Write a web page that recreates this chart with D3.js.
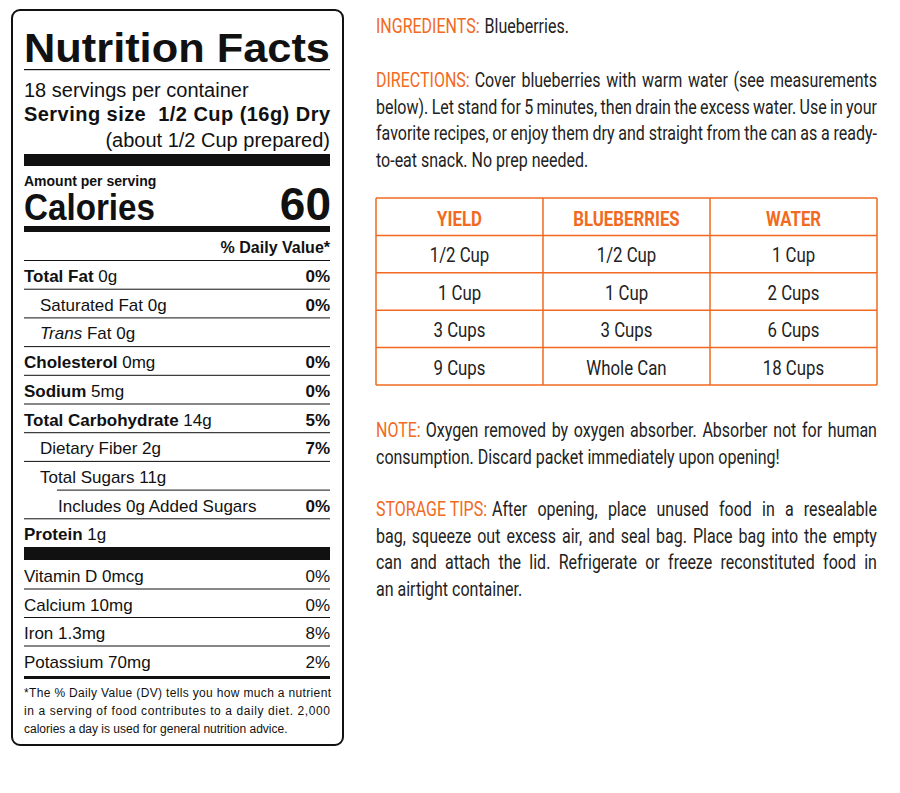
<!DOCTYPE html>
<html>
<head>
  <script src="https://cdn.jsdelivr.net/npm/d3@7"></script>
  <style>
    body { margin: 0; background: #fff; }
    svg { display: block; }
  </style>
</head>
<body>
  <svg id="label" width="900" height="793"></svg>
  <script>
    // nutrient rows: [bold name, rest, % DV, indent level]
    var nutrients = [
      ['Total Fat', ' 0g', '0%', 0],
      ['', 'Saturated Fat 0g', '0%', 1],
      ['', 'Trans Fat 0g', '', 1],
      ['Cholesterol', ' 0mg', '0%', 0],
      ['Sodium', ' 5mg', '0%', 0],
      ['Total Carbohydrate', ' 14g', '5%', 0],
      ['', 'Dietary Fiber 2g', '7%', 1],
      ['', 'Total Sugars 11g', '', 1],
      ['', 'Includes 0g Added Sugars', '0%', 2],
      ['Protein', ' 1g', '', 0]
    ]
    var vitamins = [
      ['Vitamin D 0mcg', '0%'],
      ['Calcium 10mg', '0%'],
      ['Iron 1.3mg', '8%'],
      ['Potassium 70mg', '2%']
    ]
    var footnote = [
      '*The % Daily Value (DV) tells you how much a nutrient',
      'in a serving of food contributes to a daily diet. 2,000',
      'calories a day is used for general nutrition advice.'
    ]
    var tableHead = ['YIELD', 'BLUEBERRIES', 'WATER']
    var tableRows = [
      ['1/2 Cup', '1/2 Cup', '1 Cup'],
      ['1 Cup', '1 Cup', '2 Cups'],
      ['3 Cups', '3 Cups', '6 Cups'],
      ['9 Cups', 'Whole Can', '18 Cups']
    ]
    var paragraphs = [
      { head: 'INGREDIENTS:', y: 33, lines: ['Blueberries.'] },
      { head: 'DIRECTIONS:', y: 87, lines: [
        'Cover blueberries with warm water (see measurements',
        'below). Let stand for 5 minutes, then drain the excess water. Use in your',
        'favorite recipes, or enjoy them dry and straight from the can as a ready-',
        'to-eat snack. No prep needed.'] },
      { head: 'NOTE:', y: 437, lines: [
        'Oxygen removed by oxygen absorber. Absorber not for human',
        'consumption. Discard packet immediately upon opening!'] },
      { head: 'STORAGE TIPS:', y: 516, lines: [
        'After opening, place unused food in a resealable',
        'bag, squeeze out excess air, and seal bag. Place bag into the empty',
        'can and attach the lid. Refrigerate or freeze reconstituted food in',
        'an airtight container.'] }
    ]

    var orange = '#f26a21'
    var sans = 'Liberation Sans, Arial, sans-serif'
    var narrow = 'Roboto, "DejaVu Sans", sans-serif'
    var squeeze = 0.8
    var svg = d3.select('#label')

    // ---- nutrition facts panel ----
    var L = 24, R = 330
    svg.append('rect').attr('x', 12).attr('y', 10).attr('width', 331).attr('height', 735)
      .attr('rx', 8).attr('fill', 'none').attr('stroke', '#111').attr('stroke-width', 2)

    function bar(y, h, x0) {
      svg.append('rect').attr('x', x0 || L).attr('y', y).attr('width', R - (x0 || L)).attr('height', h).attr('fill', '#111')
    }
    function txt(x, y, s, size, weight, anchor, style) {
      return svg.append('text').attr('x', x).attr('y', y).text(s)
        .style('font-family', sans).style('font-size', size + 'px')
        .style('font-weight', weight || 'normal').style('font-style', style || 'normal')
        .attr('text-anchor', anchor || 'start').attr('fill', '#111')
    }

    txt(L, 62, 'Nutrition Facts', 40, 'bold').attr('textLength', 306).attr('lengthAdjust', 'spacingAndGlyphs')
    bar(69, 1.2)
    txt(L, 97, '18 servings per container', 20)
    txt(L, 121, 'Serving size  1/2 Cup (16g) Dry', 20, 'bold').style('white-space', 'pre')
      .attr('textLength', R - L).attr('lengthAdjust', 'spacing')
    txt(R, 147, '(about 1/2 Cup prepared)', 20, 'normal', 'end')
    bar(154, 12)
    txt(L, 186, 'Amount per serving', 14, 'bold')
    txt(L, 220, 'Calories', 36, 'bold').attr('textLength', 131).attr('lengthAdjust', 'spacingAndGlyphs')
    txt(R + 1, 220, '60', 46, 'bold', 'end')
    bar(226, 6)
    txt(R, 253, '% Daily Value*', 16, 'bold', 'end')

    var y = d3.scaleLinear().domain([0, 1]).range([282, 310.7])
    var indent = [0, 16, 34]
    nutrients.forEach(function (d, i) {
      var yy = y(i)
      var lineX = (i === 8) ? 57 : L
      bar(yy - 22, 1, lineX)
      var t = txt(L + indent[d[3]], yy, '', 17)
      if (d[0]) t.append('tspan').style('font-weight', 'bold').text(d[0])
      if (d[1] === 'Trans Fat 0g') {
        t.append('tspan').style('font-style', 'italic').text('Trans')
        t.append('tspan').text(' Fat 0g')
      } else t.append('tspan').text(d[1])
      if (d[2]) txt(R, yy, d[2], 17, 'bold', 'end')
    })
    bar(547, 13)
    var yv = d3.scaleLinear().domain([0, 1]).range([582, 610.5])
    vitamins.forEach(function (d, i) {
      if (i > 0) bar(yv(i) - 22, 1)
      txt(L, yv(i), d[0], 17)
      txt(R, yv(i), d[1], 17, 'normal', 'end')
    })
    bar(676, 3)
    footnote.forEach(function (s, i) {
      var t = txt(L, 697 + i * 18, s, 12)
      if (i < 2) t.attr('textLength', i === 0 ? 307 : R - L).attr('lengthAdjust', 'spacing')
    })

    // ---- right column (condensed look via textLength) ----
    var X0 = 376, X1 = 877, lh = 26.7
    function ntext(x, yy, s, fill, size, weight) {
      var t = svg.append('text').attr('x', x).attr('y', yy).text(s)
        .style('font-family', narrow).style('font-size', (size || 20) + 'px')
        .style('font-weight', weight || 'normal').attr('fill', fill || '#222')
        .style('white-space', 'pre')
      var w = t.node().getComputedTextLength() * squeeze
      t.attr('textLength', w).attr('lengthAdjust', 'spacingAndGlyphs')
      return { node: t, w: w }
    }
    paragraphs.forEach(function (p) {
      var h = ntext(X0, p.y, p.head, orange)
      p.lines.forEach(function (s, i) {
        var x0 = i === 0 ? X0 + h.w + 5 : X0
        var r = ntext(x0, p.y + i * lh, s)
        if (i < p.lines.length - 1) {
          // justify: keep glyph squeeze, stretch spaces
          r.node.attr('textLength', X1 - x0).attr('lengthAdjust', 'spacing')
          var words = s.split(' ').length - 1
          var extra = (X1 - x0 - r.w) / Math.max(words, 1)
          r.node.attr('textLength', null).style('word-spacing', extra + 'px')
            .attr('transform', 'translate(' + x0 + ',0) scale(' + squeeze + ',1) translate(' + (-x0) + ',0)')
            .style('word-spacing', (extra / squeeze) + 'px')
        }
      })
    })

    // yield table
    var cx = d3.scaleBand().domain(d3.range(3)).range([X0, X1])
    var ry = d3.scaleBand().domain(d3.range(5)).range([198, 385])
    var tbl = svg.append('g')
    d3.range(6).forEach(function (i) {
      var yy = i < 5 ? ry(i) : 385
      tbl.append('line').attr('x1', X0).attr('x2', X1).attr('y1', yy).attr('y2', yy)
        .attr('stroke', orange).attr('stroke-width', 1.5)
    })
    d3.range(4).forEach(function (i) {
      var xx = i < 3 ? cx(i) : X1
      tbl.append('line').attr('x1', xx).attr('x2', xx).attr('y1', 198).attr('y2', 385)
        .attr('stroke', orange).attr('stroke-width', 1.5)
    })
    function centered(x, yy, s, fill, weight) {
      var r = ntext(0, yy, s, fill, 21, weight)
      r.node.attr('x', x - r.w / 2)
    }
    tableHead.forEach(function (s, i) {
      centered(cx(i) + cx.bandwidth() / 2, ry(0) + 28, s, orange, 'bold')
    })
    tableRows.forEach(function (r, j) {
      r.forEach(function (s, i) {
        centered(cx(i) + cx.bandwidth() / 2, ry(j + 1) + 27, s, '#222')
      })
    })
  </script>
</body>
</html>
